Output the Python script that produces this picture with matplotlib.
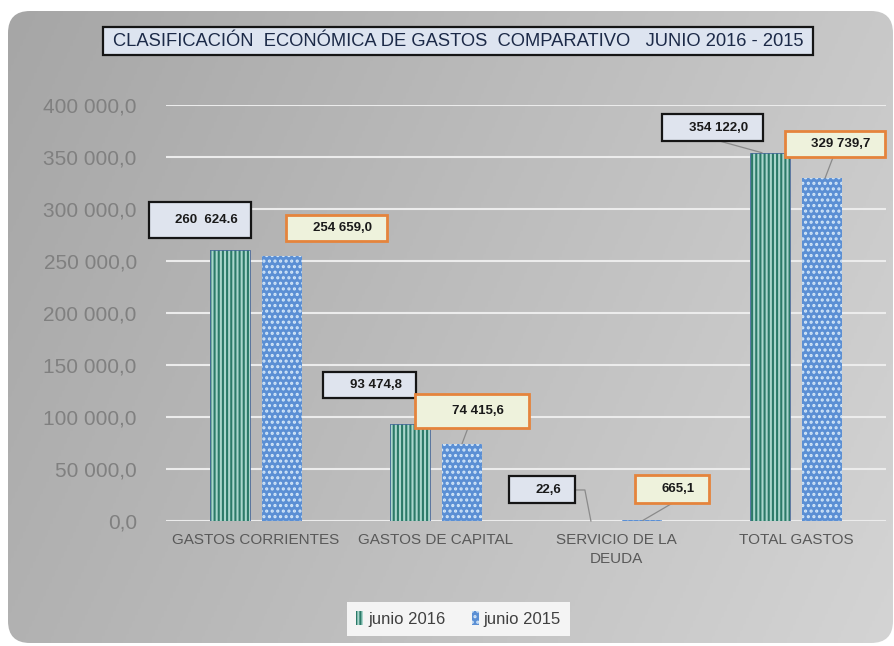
import numpy as np
import matplotlib
matplotlib.use('Agg')
import matplotlib.pyplot as plt
from matplotlib import font_manager
from matplotlib.patches import FancyBboxPatch, Rectangle, Patch
from matplotlib.colors import LinearSegmentedColormap

# Data
categories = ['GASTOS CORRIENTES', 'GASTOS DE CAPITAL', 'SERVICIO DE LA\nDEUDA', 'TOTAL GASTOS']
jun_2016 = [260624.6, 93474.8, 22.6, 354122.0]
jun_2015 = [254659.0, 74415.6, 665.1, 329739.7]
labels_2016 = ['260  624.6', '93 474,8', '22,6', '354 122,0']
labels_2015 = ['254 659,0', '74 415,6', '665,1', '329 739,7']
series_names = ['junio 2016', 'junio 2015']
y_ticks = [0, 50000, 100000, 150000, 200000, 250000, 300000, 350000, 400000]
title = 'CLASIFICACIÓN  ECONÓMICA DE GASTOS  COMPARATIVO   JUNIO 2016 - 2015'

# Label box layout, pixels relative to bar top: (dx, dy, width, height)
box_2016 = [(-30, -30, 102, 36), (-40, -39, 93, 26), (-48, -31, 66, 27), (-57, -25, 101, 27)]
box_2015 = [(54, -28, 101, 26), (10, -33, 114, 34), (30, -31, 74, 28), (13, -34, 100, 26)]
# leader lines (points relative to bar top), None = no line
lead_2016 = [None, None, [(-15, -31), (-5, -31), (1, 0)], [(-48, -11), (-8, 0)]]
lead_2015 = [None, [(6, -16), (0, 0)], [(30, -17), (1, 0)], [(11, -21), (3, 0)]]

W, H = 895, 646

names = {f.name for f in font_manager.fontManager.ttflist}
NARROW = 'Liberation Sans Narrow' if 'Liberation Sans Narrow' in names else 'Liberation Sans'
SANS = 'Liberation Sans'

C16_FACE, C16_HATCH = '#a9d6cc', '#2b7a68'
C15_FACE, C15_HATCH = '#5b8fd4', '#d2e6f8'


def fmt_tick(v, pos=None):
    return f'{v:,.1f}'.replace(',', ' ').replace('.', ',')


fig = plt.figure(figsize=(W / 100, H / 100), dpi=100)
fig.patch.set_facecolor('white')

# gray rounded panel with gradient
bg = fig.add_axes([0, 0, 1, 1])
bg.set_xlim(0, W)
bg.set_ylim(H, 0)
bg.axis('off')
gx = np.linspace(0, 1, 300)
gy = np.linspace(0, 1, 200)
GX, GY = np.meshgrid(gx, gy)
grad = 0.75 * GX + 0.25 * GY
cmap = LinearSegmentedColormap.from_list('g', ['#a6a6a6', '#bdbdbd', '#d4d4d4'])
im = bg.imshow(grad, extent=(8, 893, 643, 11), cmap=cmap, aspect='auto', zorder=0)
r = 22
panel = FancyBboxPatch((8 + r, 11 + r), 885 - 2 * r, 632 - 2 * r,
                       boxstyle=f'round,pad={r}', fc='none', ec='none')
bg.add_patch(panel)
im.set_clip_path(panel)

# main axes
ax = fig.add_axes([166 / W, 1 - 521 / H, 720 / W, 416 / H])
ax.patch.set_alpha(0)
x = np.arange(len(categories))
bw = 0.225
off = 0.145

plt.rcParams['hatch.linewidth'] = 1.5
ax.bar(x - off, jun_2016, bw, color=C16_FACE, edgecolor=C16_HATCH, hatch='||||', lw=0, zorder=3)
ax.bar(x - off, jun_2016, bw, fill=False, edgecolor='#4a6a9a', lw=0.6, zorder=4)
ax.bar(x + off, jun_2015, bw, color=C15_FACE, edgecolor=C15_HATCH, hatch='...', lw=0, zorder=3)

ax.set_xlim(-0.5, len(categories) - 0.5)
ax.set_ylim(0, 400000)
ax.set_yticks(y_ticks)
ax.yaxis.set_major_formatter(plt.FuncFormatter(fmt_tick))
ax.grid(axis='y', color='#ececec', lw=1.5, zorder=1)
ax.set_axisbelow(True)
for s in ax.spines.values():
    s.set_visible(False)
ax.tick_params(length=0)
ax.tick_params(axis='y', pad=21, labelsize=15, labelcolor='#808080')
ax.set_xticks(x)
ax.set_xticklabels(categories, fontsize=11, color='#595959', linespacing=1.4, family=SANS)
ax.tick_params(axis='x', pad=9)
for t in ax.get_yticklabels():
    t.set_family(SANS)

# overlay for labels, in pixel coordinates (y down)
ov = fig.add_axes([0, 0, 1, 1])
ov.set_xlim(0, W)
ov.set_ylim(H, 0)
ov.axis('off')
ov.patch.set_alpha(0)

fig.canvas.draw()


def bar_top(xv, v):
    d = ax.transData.transform((xv, v))
    return ov.transData.inverted().transform(d)


def draw_label(xv, v, box, lead, text, fc, ec, lw):
    bx, by = bar_top(xv, v)
    if lead is not None:
        pts = np.array([(bx + p[0], by + p[1]) for p in lead])
        ov.plot(pts[:, 0], pts[:, 1], color='#8a8a8a', lw=0.9, zorder=2)
    dx, dy, w, h = box
    cx, cy = bx + dx, by + dy
    ov.add_patch(Rectangle((cx - w / 2, cy - h / 2), w, h, fc=fc, ec=ec, lw=lw, zorder=3))
    ov.text(cx + 6, cy, text, ha='center', va='center', fontsize=9.5, fontweight='bold',
            color='#1a1a1a', family=NARROW, zorder=4)


for i in range(len(categories)):
    draw_label(x[i] - off, jun_2016[i], box_2016[i], lead_2016[i], labels_2016[i],
               '#dfe4ee', '#151515', 1.6)
    draw_label(x[i] + off, jun_2015[i], box_2015[i], lead_2015[i], labels_2015[i],
               '#eef2dc', '#e5843c', 2.0)

# title box
ov.add_patch(Rectangle((103, 27), 710, 28, fc='#dde4f0', ec='#151515', lw=1.6, zorder=3))
ov.text(458, 41.5, title, ha='center', va='center', fontsize=13.2, color='#1c2a48',
        family=NARROW, zorder=4)

# legend
handles = [Patch(facecolor=C16_FACE, edgecolor=C16_HATCH, hatch='||||', lw=0),
           Patch(facecolor=C15_FACE, edgecolor=C15_HATCH, hatch='...', lw=0)]
leg = fig.legend(handles, series_names, loc='center', bbox_to_anchor=(458.5 / W, 1 - 619 / H),
                 ncol=2, frameon=True, fancybox=False, handlelength=0.4, handleheight=0.9,
                 handletextpad=0.3, columnspacing=1.6, borderpad=0.55,
                 prop={'family': SANS, 'size': 12})
leg.get_frame().set_facecolor('#f4f4f4')
leg.get_frame().set_edgecolor('none')
leg.get_frame().set_alpha(1)
for t in leg.get_texts():
    t.set_color('#404040')

fig.savefig('out.png', dpi=100)
